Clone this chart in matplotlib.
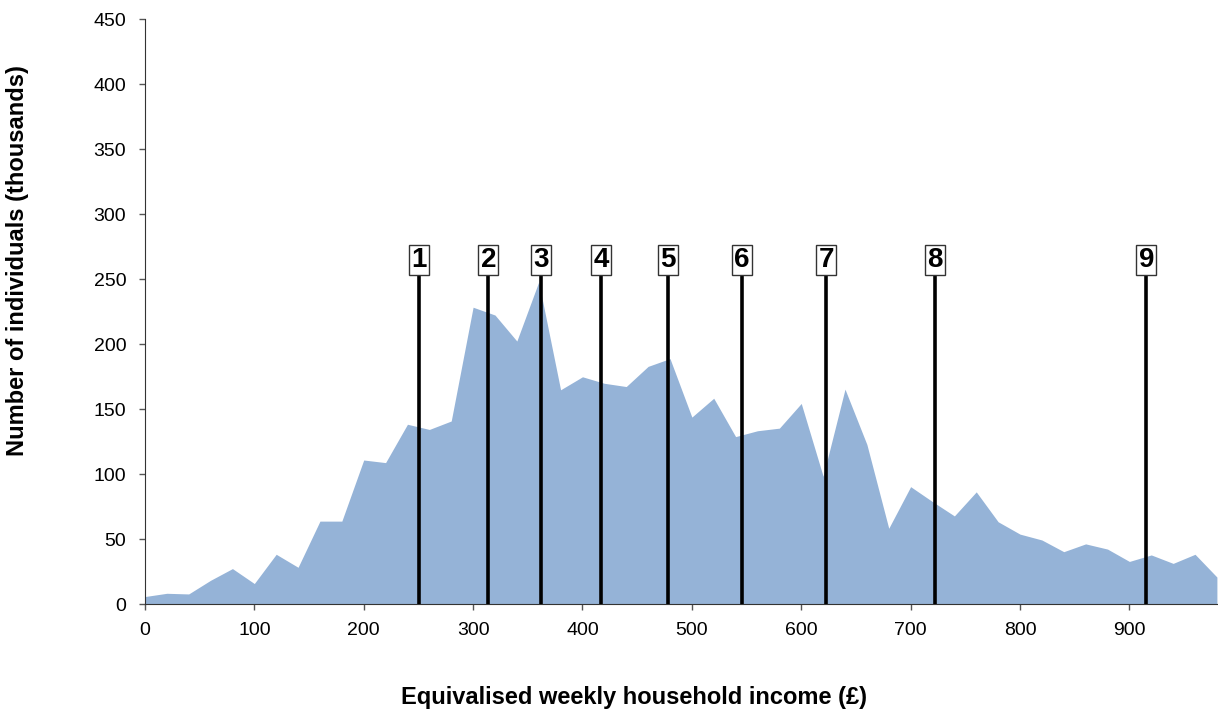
"""Income distribution with decile markers."""

import numpy as np
import matplotlib

matplotlib.use("Agg")
import matplotlib.pyplot as plt  # noqa: E402

# weekly income band (GBP) and number of individuals (thousands)
income = np.arange(0, 981, 20)
people = [6, 8.5, 8, 18.5, 27.5, 16, 38.5, 28.5, 64, 64,
          111, 109, 138.5, 134.5, 141, 228.5, 222.5, 202.5, 248, 165,
          175, 170, 167.5, 183, 189, 144, 158.5, 129, 133.5, 135.5,
          154.5, 98.5, 165.5, 123, 58.5, 90.5, 79, 68, 86.5, 63.5,
          54, 49.5, 40.5, 46.5, 42.5, 33, 38, 31.5, 38.5, 21]

# decile boundaries
decile_labels = ["1", "2", "3", "4", "5", "6", "7", "8", "9"]
decile_income = [250.5, 314, 362.5, 417, 478.5, 545.5, 623, 722, 915.5]

plt.rcParams["font.family"] = ["Liberation Sans", "DejaVu Sans"]

fig = plt.figure(figsize=(12.18, 7.11), dpi=100)
ax = fig.add_axes([0.119, 0.150, 0.881, 0.823])

ax.fill_between(income, people, 0, color="#95b3d7", linewidth=0)

for lab, xv in zip(decile_labels, decile_income):
    ax.plot([xv, xv], [0, 257], color="black", linewidth=2.6,
            solid_capstyle="butt", zorder=3)
    ax.text(xv, 265, lab, ha="center", va="center", fontsize=20,
            fontweight="bold", zorder=4,
            bbox=dict(boxstyle="square,pad=0.08", facecolor="white",
                      edgecolor="#333333", linewidth=1.0))

ax.set_xlim(0, 981)
ax.set_ylim(0, 450)
ax.set_xticks(np.arange(0, 901, 100))
ax.set_yticks(np.arange(0, 451, 50))
ax.tick_params(labelsize=14, direction="out", length=4.5, width=1,
               color="#555555")
ax.tick_params(axis="x", pad=8)
ax.tick_params(axis="y", pad=9)
ax.spines["top"].set_visible(False)
ax.spines["right"].set_visible(False)
for side in ("left", "bottom"):
    ax.spines[side].set_color("#333333")

ax.set_xlabel("Equivalised weekly household income (£)", fontsize=17,
              fontweight="bold")
ax.set_ylabel("Number of individuals (thousands)", fontsize=17,
              fontweight="bold")
ax.xaxis.set_label_coords(0.4557, -0.1585)
ax.xaxis.label.set_va("center")
ax.yaxis.set_label_coords(-0.1184, 0.587)
ax.yaxis.label.set_va("center")

fig.savefig("out.png", dpi=100)
plt.close(fig)
